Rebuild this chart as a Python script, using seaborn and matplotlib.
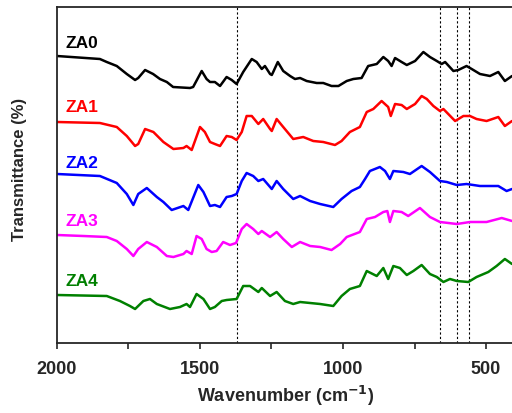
import numpy as np
import pandas as pd
import matplotlib
matplotlib.use("Agg")
import matplotlib.pyplot as plt
from matplotlib.ticker import MultipleLocator
import seaborn as sns

sns.set_style("ticks")
plt.rcParams['font.family'] = ['Liberation Sans', 'DejaVu Sans']

# ---- data (wavenumber, offset transmittance) ----
za0_wn = [2000, 1850, 1826, 1791, 1756, 1727, 1716, 1692, 1664, 1640, 1616, 1594, 1535, 1524, 1494, 1477,
          1465, 1448, 1430, 1407, 1389, 1372, 1349, 1319, 1302, 1284, 1273, 1255, 1249, 1244, 1228, 1209,
          1185, 1168, 1150, 1127, 1092, 1069, 1040, 1016, 987, 964, 935, 912, 882, 859, 842, 830, 818,
          795, 777, 748, 719, 696, 672, 655, 643, 614, 597, 568, 550, 521, 486, 457, 434, 409]
za0_t = [287, 284, 281, 277, 269, 263, 265, 273, 269, 264, 261, 256, 255, 256, 272, 264,
         261, 261, 257, 266, 263, 259, 271, 284, 281, 274, 277, 269, 268, 271, 281, 272,
         267, 264, 265, 262, 260, 260, 257, 257, 262, 264, 265, 277, 279, 286, 282, 277, 285,
         281, 278, 282, 291, 286, 282, 279, 281, 272, 273, 277, 274, 269, 267, 271, 262, 267]

za1_wn = [2000, 1850, 1791, 1756, 1727, 1716, 1692, 1663, 1628, 1593, 1558, 1547, 1529, 1500, 1483, 1465,
          1448, 1430, 1407, 1389, 1372, 1354, 1337, 1319, 1296, 1279, 1255, 1249, 1232, 1209, 1174, 1139,
          1104, 1069, 1028, 1005, 976, 941, 917, 894, 865, 842, 833, 818, 795, 777, 748, 725, 707, 684,
          661, 649, 608, 579, 556, 533, 498, 457, 434, 409]
za1_t = [221, 220, 216, 207, 197, 199, 214, 211, 201, 194, 195, 197, 193, 216, 211, 201,
         199, 197, 207, 206, 203, 211, 227, 227, 219, 224, 214, 212, 224, 216, 204, 206,
         202, 201, 198, 202, 211, 216, 231, 234, 242, 236, 227, 239, 238, 234, 239, 247, 244, 237,
         232, 234, 222, 227, 227, 224, 222, 226, 217, 222]

za2_wn = [2000, 1850, 1791, 1756, 1733, 1716, 1686, 1651, 1628, 1599, 1558, 1541, 1506, 1488, 1465, 1448,
          1430, 1407, 1389, 1372, 1354, 1337, 1314, 1296, 1279, 1249, 1232, 1209, 1174, 1150, 1115, 1080,
          1034, 1005, 970, 941, 923, 906, 871, 853, 836, 824, 789, 766, 725, 696, 661, 637, 602, 568,
          521, 457, 428, 409]
za2_t = [169, 167, 160, 149, 138, 149, 155, 146, 141, 133, 137, 133, 158, 151, 137, 138,
         136, 146, 147, 149, 162, 170, 167, 162, 164, 154, 162, 154, 144, 147, 142, 139,
         136, 144, 152, 156, 164, 172, 176, 172, 164, 172, 171, 169, 177, 171, 162, 161, 158, 159,
         157, 157, 152, 154]

za3_wn = [2000, 1908, 1826, 1791, 1756, 1733, 1716, 1686, 1651, 1616, 1593, 1558, 1547, 1529, 1512, 1494,
          1477, 1459, 1442, 1419, 1395, 1374, 1354, 1337, 1314, 1296, 1284, 1255, 1232, 1209, 1179, 1150,
          1115, 1080, 1040, 1010, 987, 941, 917, 888, 859, 845, 836, 824, 795, 772, 731, 696, 661, 602,
          556, 498, 445, 409]
za3_t = [108, 107, 106, 102, 94, 87, 94, 101, 96, 87, 86, 89, 92, 89, 107, 104,
         94, 91, 92, 101, 98, 100, 114, 119, 114, 109, 112, 106, 111, 104, 96, 101,
         97, 96, 93, 99, 106, 111, 124, 126, 131, 132, 121, 132, 131, 127, 135, 126, 121, 119,
         121, 121, 125, 122]

za4_wn = [2000, 1826, 1780, 1745, 1727, 1698, 1675, 1651, 1605, 1570, 1547, 1535, 1512, 1488, 1465, 1448,
          1424, 1407, 1372, 1349, 1325, 1296, 1284, 1255, 1232, 1203, 1174, 1150, 1115, 1080, 1034, 1005,
          976, 941, 917, 882, 859, 842, 824, 801, 777, 754, 725, 696, 672, 649, 626, 602, 562, 533,
          492, 463, 434, 409]
za4_t = [48, 47, 42, 37, 34, 42, 44, 39, 34, 36, 39, 36, 49, 44, 34, 36,
         42, 43, 44, 57, 57, 51, 55, 47, 51, 42, 39, 41, 40, 39, 37, 47,
         54, 57, 72, 67, 75, 64, 77, 75, 68, 72, 78, 69, 66, 61, 64, 62, 61, 66,
         71, 77, 84, 79]

series_names = ["ZA0", "ZA1", "ZA2", "ZA3", "ZA4"]
series_colors = ["black", "#ff0000", "#0000ff", "#ff00ff", "#008000"]
label_y = [300, 237, 180, 123, 63]
ref_lines = [1372, 660, 602, 560]
x_ticks = [2000, 1500, 1000, 500]

frames = []
for name, wn, t in zip(series_names,
                       [za0_wn, za1_wn, za2_wn, za3_wn, za4_wn],
                       [za0_t, za1_t, za2_t, za3_t, za4_t]):
    frames.append(pd.DataFrame({"wn": wn, "T": t, "sample": name}))
df = pd.concat(frames, ignore_index=True)

fig = plt.figure(figsize=(5.12, 4.14), dpi=100)
ax = fig.add_axes([57 / 512, 70 / 414, (514.6 - 57) / 512, (344 - 8) / 414])

sns.lineplot(data=df, x="wn", y="T", hue="sample", palette=dict(zip(series_names, series_colors)),
             linewidth=1.8, legend=False, ax=ax, estimator=None, sort=True)

for xv in ref_lines:
    ax.axvline(xv, color="black", linestyle=(0, (2, 2)), linewidth=0.8, zorder=0)

for name, col, yv in zip(series_names, series_colors, label_y):
    ax.text(1972, yv, name, color=col, fontsize=12.5, fontweight="bold", va="center", ha="left")

ax.set_xlim(2000, 400)
ax.set_ylim(0, 336)
ax.set_xticks(x_ticks)
ax.xaxis.set_minor_locator(MultipleLocator(250))
ax.set_yticks([])
ax.tick_params(axis="x", which="both", direction="out", length=4, width=1.2, labelsize=13, pad=8)
for lbl in ax.get_xticklabels():
    lbl.set_fontweight("bold")
ax.set_xlabel("Wavenumber (cm$^{\\mathbf{-1}}$)", fontsize=13, fontweight="bold")
ax.xaxis.set_label_coords(0.5, -0.118)
ax.set_ylabel("Transmittance (%)", fontsize=12, fontweight="bold")
ax.yaxis.set_label_coords(-0.066, 0.52)
for sp in ax.spines.values():
    sp.set_linewidth(1.3)

fig.savefig("out.png", dpi=100)
